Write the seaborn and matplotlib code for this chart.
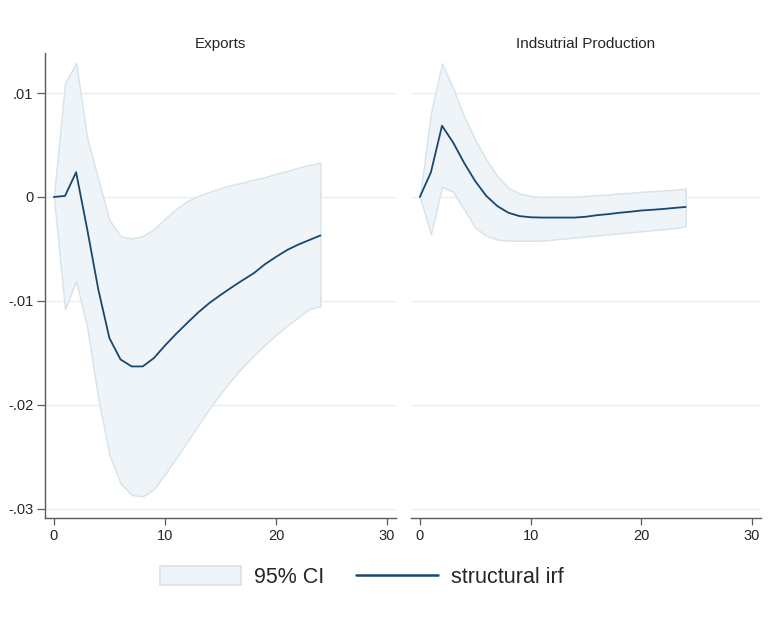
import numpy as np
import pandas as pd
import matplotlib
matplotlib.use("Agg")
import matplotlib.pyplot as plt
from matplotlib.patches import Patch
from matplotlib.lines import Line2D
import seaborn as sns

steps = list(range(25))

exports_irf = [0.0, 0.0001, 0.00238, -0.0031, -0.0089, -0.01358, -0.01563, -0.0163, -0.0163,
               -0.0155, -0.01429, -0.01317, -0.01212, -0.0111, -0.0102, -0.00943, -0.0087,
               -0.0080, -0.00733, -0.00647, -0.00576, -0.0051, -0.00458, -0.00414, -0.0037]
exports_upper = [0.0, 0.01094, 0.0129, 0.00567, 0.00168, -0.00222, -0.00375, -0.0040, -0.00375,
                 -0.0031, -0.0021, -0.00113, -0.0004, 0.0001, 0.0005, 0.00085, 0.00115,
                 0.00139, 0.00168, 0.0019, 0.00222, 0.0025, 0.00283, 0.00308, 0.0033]
exports_lower = [0.0, -0.0108, -0.0081, -0.01253, -0.0194, -0.0248, -0.02754, -0.02866, -0.0288,
                 -0.0281, -0.02668, -0.02514, -0.02354, -0.02195, -0.02035, -0.0189, -0.01758,
                 -0.01636, -0.01525, -0.01422, -0.01327, -0.01237, -0.01157, -0.01078, -0.0105]

ip_irf = [0.0, 0.00238, 0.00685, 0.00525, 0.00327, 0.00152, 0.0001, -0.00088, -0.00152,
          -0.00184, -0.00195, -0.00198, -0.00198, -0.00198, -0.00198, -0.0019, -0.00175,
          -0.00165, -0.00152, -0.00142, -0.0013, -0.00123, -0.00115, -0.00105, -0.00096]
ip_upper = [0.0, 0.00807, 0.01286, 0.01046, 0.00774, 0.0055, 0.0036, 0.002, 0.00088,
            0.00034, 0.0001, 0.0, 0.00003, 0.00003, 0.00003, 0.0001, 0.00018, 0.00024,
            0.00035, 0.0004, 0.0005, 0.00056, 0.00063, 0.0007, 0.0008]
ip_lower = [0.0, -0.0036, 0.00098, 0.0005, -0.0012, -0.00295, -0.00375, -0.0041, -0.0042,
            -0.0042, -0.0042, -0.0042, -0.0041, -0.004, -0.0039, -0.0038, -0.0037, -0.0036,
            -0.0035, -0.0034, -0.0033, -0.0032, -0.0031, -0.003, -0.0028]

panel_titles = ["Exports", "Indsutrial Production"]
y_ticks = [0.01, 0.0, -0.01, -0.02, -0.03]
y_tick_labels = [".01", "0", "-.01", "-.02", "-.03"]
x_ticks = [0, 10, 20, 30]

frames = []
for name, irf, lo, hi in [(panel_titles[0], exports_irf, exports_lower, exports_upper),
                          (panel_titles[1], ip_irf, ip_lower, ip_upper)]:
    frames.append(pd.DataFrame({"step": steps, "irf": irf, "lower": lo,
                                "upper": hi, "response": name}))
df = pd.concat(frames, ignore_index=True)

sns.set_theme(style="white")
plt.rcParams["font.family"] = ["Liberation Sans", "DejaVu Sans"]

NAVY = "#1a476f"
CI_FILL = "#eef4f7"
CI_EDGE = "#d6e3ea"
GRID = "#e8eff2"
AXIS = "#5a5a5a"

W, H = 777, 624
fig = plt.figure(figsize=(W / 100, H / 100), dpi=100)
ax_l = fig.add_axes([45 / W, 1 - 518 / H, 351 / W, (518 - 53) / H])
ax_r = fig.add_axes([411 / W, 1 - 518 / H, 350 / W, (518 - 53) / H])

for ax, name in zip([ax_l, ax_r], panel_titles):
    sub = df[df["response"] == name]
    ax.fill_between(sub["step"], sub["lower"], sub["upper"], facecolor=CI_FILL,
                    edgecolor=CI_EDGE, linewidth=1.0, zorder=2)
    sns.lineplot(data=sub, x="step", y="irf", ax=ax, color=NAVY, linewidth=1.3,
                 zorder=3, legend=False)
    ax.set_xlim(-0.8, 30.8)
    ax.set_ylim(-0.03088, 0.01385)
    ax.set_yticks(y_ticks)
    ax.set_xticks(x_ticks)
    ax.set_xlabel("")
    ax.set_ylabel("")
    ax.grid(axis="y", color=GRID, linewidth=1.0, zorder=0)
    ax.grid(axis="x", visible=False)
    for side in ["top", "right"]:
        ax.spines[side].set_visible(False)
    ax.spines["bottom"].set_color(AXIS)
    ax.spines["bottom"].set_linewidth(1.0)
    ax.tick_params(axis="x", direction="out", length=5, width=0.9, color=AXIS,
                   labelsize=10.5, pad=3, bottom=True)
    ax.set_title(name, fontsize=11, pad=3.5)

ax_l.set_yticklabels(y_tick_labels)
ax_l.spines["left"].set_color(AXIS)
ax_l.spines["left"].set_linewidth(1.0)
ax_l.tick_params(axis="y", direction="out", length=6, width=0.9, color=AXIS,
                 labelsize=10.5, pad=2.5, left=True)
ax_r.spines["left"].set_visible(False)
ax_r.tick_params(axis="y", left=False, labelleft=False)

handles = [Patch(facecolor=CI_FILL, edgecolor=CI_EDGE, linewidth=1.2, label="95% CI"),
           Line2D([0], [0], color=NAVY, linewidth=1.8, label="structural irf")]
fig.legend(handles=handles, loc="center", bbox_to_anchor=(361.5 / W, 1 - 577 / H),
           ncol=2, frameon=False, fontsize=15.5, handlelength=3.8, handleheight=1.0,
           handletextpad=0.6, columnspacing=1.45)

fig.savefig("out.png", dpi=100, facecolor="white")
